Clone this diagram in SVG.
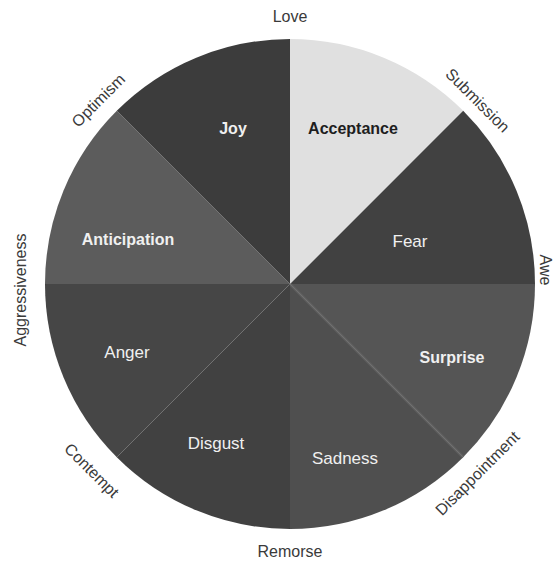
<svg xmlns="http://www.w3.org/2000/svg" width="554" height="561" viewBox="0 0 554 561">
<style>
.outer{font-family:"Liberation Sans",Arial,sans-serif;font-size:16px;fill:#3a3a3a;text-anchor:middle}
.inner{font-family:"Liberation Sans",Arial,sans-serif;font-size:16px;font-weight:bold;fill:#f0f0f0;text-anchor:middle}
.reg{font-weight:normal;font-size:17px}
.dark{fill:#1e1e1e}
</style>
<rect width="554" height="561" fill="#ffffff"/>
<g id="slices">
<g id="acceptance"><path d="M290,284 L290,39 A245,245 0 0 1 463.2,110.8 Z" fill="#e0e0e0"/><text class="inner dark" x="353" y="134">Acceptance</text></g>
<g id="fear"><path d="M290,284 L463.2,110.8 A245,245 0 0 1 535,284 Z" fill="#414141"/><text class="inner reg" x="410" y="247">Fear</text></g>
<g id="surprise"><path d="M290,284 L535,284 A245,245 0 0 1 463.2,457.2 Z" fill="#555555"/><text class="inner" x="452" y="363">Surprise</text></g>
<g id="sadness"><path d="M290,284 L463.2,457.2 A245,245 0 0 1 290,529 Z" fill="#4f4f4f"/><path d="M290,284 L463.2,457.2" stroke="#6a6a6a" stroke-width="3" opacity="0.6"/><text class="inner reg" x="345" y="464">Sadness</text></g>
<g id="disgust"><path d="M290,284 L290,529 A245,245 0 0 1 116.8,457.2 Z" fill="#414141"/><text class="inner reg" x="216" y="449">Disgust</text></g>
<g id="anger"><path d="M290,284 L116.8,457.2 A245,245 0 0 1 45,284 Z" fill="#464646"/><text class="inner reg" x="127" y="358">Anger</text></g>
<g id="anticipation"><path d="M290,284 L45,284 A245,245 0 0 1 116.8,110.8 Z" fill="#5c5c5c"/><text class="inner" x="128" y="245">Anticipation</text></g>
<g id="joy"><path d="M290,284 L116.8,110.8 A245,245 0 0 1 290,39 Z" fill="#3c3c3c"/><text class="inner" x="233" y="134">Joy</text></g>
</g>
<g id="labels">
<text class="outer" x="290" y="22">Love</text>
<text class="outer" transform="translate(478,100) rotate(45)" dy="6">Submission</text>
<text class="outer" transform="translate(546,270) rotate(90)" dy="6">Awe</text>
<text class="outer" transform="translate(477,473) rotate(-45)" dy="6">Disappointment</text>
<text class="outer" x="290" y="557">Remorse</text>
<text class="outer" transform="translate(92,470) rotate(45)" dy="6">Contempt</text>
<text class="outer" transform="translate(20,290) rotate(-90)" dy="6">Aggressiveness</text>
<text class="outer" transform="translate(98,100) rotate(-45)" dy="6">Optimism</text>
</g>
</svg>
